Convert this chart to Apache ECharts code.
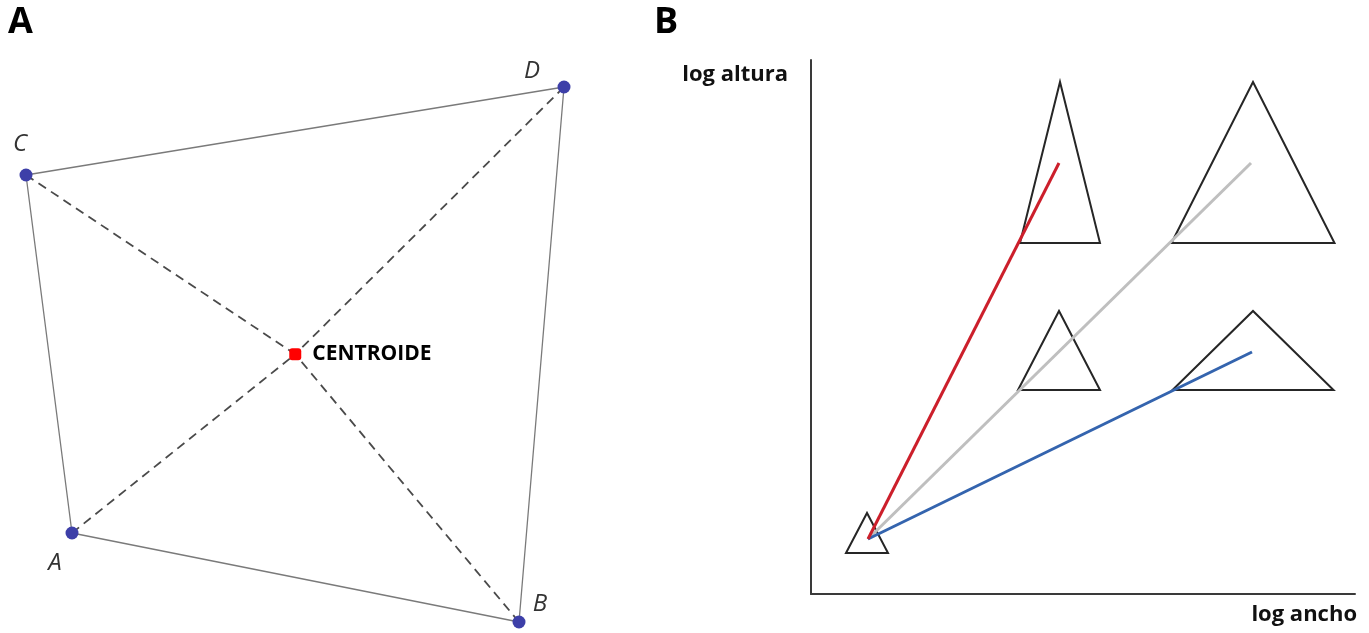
<!DOCTYPE html>
<html>
<head>
<meta charset="utf-8">
<script src="https://cdn.jsdelivr.net/npm/echarts@6/dist/echarts.min.js"></script>
<style>
  html, body { margin: 0; padding: 0; background: #fff; }
  #chart { width: 1369px; height: 633px; }
</style>
</head>
<body>
<div id="chart"></div>
<script>
// Panel A: quadrilateral of four sites and their centroid (plane units, y up)
const vertexNames = ['A', 'B', 'C', 'D'];
const vertexX = [72, 519, 26, 564];
const vertexY = [100, 11, 458, 546];
const outlineOrder = ['A', 'B', 'D', 'C', 'A'];
const centroidName = 'CENTROIDE';

// Panel B: shapes on log width / log height axes
const shapeNames = ['base', 'alta', 'grande', 'media', 'ancha'];
const shapeCenterX = [56, 249, 442, 248, 442];
const shapeBaseY = [41, 351, 351, 204, 204];
const shapeWidth = [42, 80, 163, 82, 161];
const shapeHeight = [40, 161, 161, 79, 79];

// Growth trajectories from the small shape
const trendNames = ['alargamiento', 'isometría', 'ensanchamiento'];
const trendOrigin = [57, 55];
const trendEndX = [248, 440, 441];
const trendEndY = [431, 431, 242];
const trendColors = ['#cc1f2b', '#bfbfbf', '#3464ae'];

const axisNames = { x: 'log ancho', y: 'log altura' };
const panelLetters = ['A', 'B'];

const FONT = '"Open Sans", "Noto Sans", sans-serif';

// centroid = mean of the four vertices
const cx = vertexX.reduce((s, v) => s + v, 0) / vertexX.length;
const cy = vertexY.reduce((s, v) => s + v, 0) / vertexY.length;

const vIndex = n => vertexNames.indexOf(n);
const labelOffsets = { A: [-17, 30], B: [21, -18], C: [-6, -31], D: [-32, -16] };

const series = [];

// outline of the quadrilateral
series.push({
  type: 'line', xAxisIndex: 0, yAxisIndex: 0, symbol: 'none', silent: true,
  lineStyle: { color: '#7a7a7a', width: 1.3 },
  data: outlineOrder.map(n => [vertexX[vIndex(n)], vertexY[vIndex(n)]]),
  z: 1
});

// dashed spokes from each vertex to the centroid
vertexNames.forEach(n => {
  series.push({
    type: 'line', xAxisIndex: 0, yAxisIndex: 0, symbol: 'none', silent: true,
    lineStyle: { color: '#4a4a4a', width: 1.8, type: [9, 6] },
    data: [[vertexX[vIndex(n)], vertexY[vIndex(n)]], [cx, cy]],
    z: 1
  });
});

// vertex dots with italic letters
series.push({
  type: 'scatter', xAxisIndex: 0, yAxisIndex: 0, symbolSize: 13,
  itemStyle: { color: '#3d3fa8', opacity: 1 },
  data: vertexNames.map((n, i) => ({
    name: n, value: [vertexX[i], vertexY[i]],
    label: { offset: labelOffsets[n] }
  })),
  label: {
    show: true, position: 'inside', formatter: '{b}',
    fontFamily: FONT, fontStyle: 'italic', fontSize: 24, color: '#333333'
  },
  z: 3
});

// centroid marker
series.push({
  type: 'scatter', xAxisIndex: 0, yAxisIndex: 0, symbol: 'roundRect', symbolSize: 12,
  itemStyle: { color: '#ff0000', opacity: 1 },
  data: [{ name: centroidName, value: [cx, cy] }],
  label: {
    show: true, position: 'right', distance: 11, formatter: '{b}',
    fontFamily: FONT, fontWeight: 'bold', fontSize: 21, color: '#000'
  },
  z: 4
});

// triangles in panel B
series.push({
  type: 'custom', xAxisIndex: 1, yAxisIndex: 1, silent: true,
  data: shapeNames.map((n, i) => [shapeCenterX[i], shapeBaseY[i], shapeWidth[i], shapeHeight[i]]),
  encode: { x: 0, y: 1 },
  renderItem: (params, api) => {
    const x = api.value(0), b = api.value(1), w = api.value(2), h = api.value(3);
    const pts = [
      api.coord([x - w / 2, b]),
      api.coord([x, b + h]),
      api.coord([x + w / 2, b])
    ];
    return {
      type: 'polygon',
      shape: { points: pts },
      style: { fill: 'none', stroke: '#262626', lineWidth: 2 }
    };
  },
  z: 2
});

// trajectories
trendNames.forEach((n, i) => {
  series.push({
    name: n, type: 'line', xAxisIndex: 1, yAxisIndex: 1, symbol: 'none', silent: true,
    lineStyle: { color: trendColors[i], width: 3 },
    data: [trendOrigin, [trendEndX[i], trendEndY[i]]],
    z: 3 + (i === 0 ? 1 : 0)
  });
});

const chart = echarts.init(document.getElementById('chart'), null, { renderer: 'canvas' });
chart.setOption({
  animation: false,
  backgroundColor: '#ffffff',
  grid: [
    { left: 0, top: 0, width: 640, height: 633 },
    { left: 811, top: 60, width: 544, height: 534 }
  ],
  xAxis: [
    { gridIndex: 0, type: 'value', min: 0, max: 640, show: false },
    {
      gridIndex: 1, type: 'value', min: 0, max: 544,
      axisLine: { show: true, lineStyle: { color: '#3a3a3a', width: 2 } },
      axisTick: { show: false }, axisLabel: { show: false }, splitLine: { show: false }
    }
  ],
  yAxis: [
    { gridIndex: 0, type: 'value', min: 0, max: 633, show: false },
    {
      gridIndex: 1, type: 'value', min: 0, max: 534,
      axisLine: { show: true, lineStyle: { color: '#3a3a3a', width: 2 } },
      axisTick: { show: false }, axisLabel: { show: false }, splitLine: { show: false }
    }
  ],
  graphic: [
    { type: 'text', left: 8, top: 5, style: { text: panelLetters[0], font: 'bold 36px ' + FONT, fill: '#000' } },
    { type: 'text', left: 654, top: 5, style: { text: panelLetters[1], font: 'bold 36px ' + FONT, fill: '#000' } },
    { type: 'text', right: 1369 - 788, top: 64, style: { text: axisNames.y, font: 'bold 22px ' + FONT, fill: '#111' } },
    { type: 'text', right: 12, top: 604, style: { text: axisNames.x, font: 'bold 22px ' + FONT, fill: '#111' } }
  ],
  series: series
});
</script>
</body>
</html>
